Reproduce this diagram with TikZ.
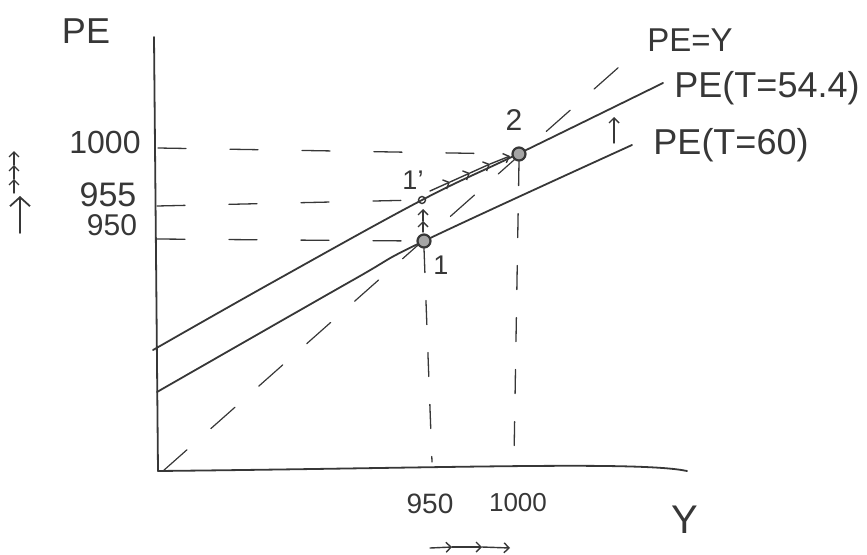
\documentclass[tikz,border=0pt]{standalone}
\usepackage{fontspec}
\setmainfont{Liberation Sans}
\usetikzlibrary{arrows.meta}
\definecolor{pencil}{RGB}{55,55,55}
\begin{document}
\begin{tikzpicture}[x=1pt,y=-1pt,
  pen/.style={draw=pencil,line width=1.8pt,line cap=round,line join=round},
  thin pen/.style={draw=pencil,line width=1.4pt,line cap=round,line join=round},
  guide/.style={draw=pencil,line width=1.3pt,line cap=round,dash pattern=on 28pt off 44pt},
  vguide/.style={draw=pencil,line width=1.3pt,line cap=round,dash pattern=on 24pt off 28pt},
  diag/.style={draw=pencil,line width=1.2pt,line cap=round,dash pattern=on 32pt off 32pt},
  tip/.style={thin pen,-{Straight Barb[length=5pt,width=10pt]}},
  bigtip/.style={pen,-{Straight Barb[length=9pt,width=20pt]}},
  dot/.style={circle,draw=pencil,fill=pencil!45,line width=2.2pt,inner sep=0pt,minimum size=13pt},
  smalldot/.style={circle,draw=pencil,line width=1.4pt,inner sep=0pt,minimum size=7pt},
  lbl/.style={text=pencil,inner sep=0pt,font=\fontsize{36}{40}\selectfont},
  num/.style={text=pencil,inner sep=0pt,font=\fontsize{32}{36}\selectfont},
  small/.style={text=pencil,inner sep=0pt,font=\fontsize{27}{30}\selectfont}]
\useasboundingbox (0,0) rectangle (867,554);

% axes
\coordinate (Ytop) at (154,37);
\coordinate (O) at (158,471);
\coordinate (Xend) at (687,471);
\draw[pen] (Ytop) -- (O);
\draw[pen] (O) .. controls (450,468) and (640,461) .. (Xend);

% axis labels
\node[lbl] (lPE) at (86,31) {PE};
\node[lbl,font=\fontsize{40}{44}\selectfont] (lY) at (685,520) {Y};

% tick labels
\node[num] (v1000) at (105,142) {1000};
\node[num,font=\fontsize{34}{36}\selectfont] (v955) at (108,195) {955};
\node[num,font=\fontsize{30}{34}\selectfont] (v950) at (112,225) {950};
\node[num,font=\fontsize{28}{32}\selectfont] (h950) at (430,504) {950};
\node[num,font=\fontsize{26}{30}\selectfont] (h1000) at (518,503) {1000};

% PE curves
\draw[pen] plot[smooth,tension=0.6] coordinates {(153,350) (273,282) (422,200) (520,153) (663,83)};
\draw[pen] plot[smooth,tension=0.6] coordinates {(157,392) (353,280) (424,241) (632,145)};

% PE = Y line
\coordinate (d0) at (163,471);
\coordinate (d1) at (628,59);
\draw[diag] (d0) -- (d1);

% equilibrium points
\node[dot] (p1) at (424,241) {};
\node[dot] (p2) at (519,154) {};
\node[smalldot] (p1p) at (422,200) {};
\node[small] (l1) at (441,265) {1};
\node[small] (l1p) at (413,180) {1'};
\node[small,font=\fontsize{30}{34}\selectfont] (l2) at (514,120) {2};

% curve labels
\node[lbl,font=\fontsize{33}{36}\selectfont] (lPEY) at (690,40) {PE=Y};
\node[lbl] (lT54) at (767,88) {PE(T=54.4)};
\node[lbl] (lT60) at (731,145) {PE(T=60)};

% horizontal guides
\coordinate (t1000) at (158,148);
\coordinate (t955) at (157,206);
\coordinate (t950) at (157,239);
\draw[guide] (t1000) -- (p2.west);
\draw[guide] (t955) -- (p1p.west);
\draw[guide] (t950) -- (p1.west);

% vertical guides
\coordinate (f950) at (432,462);
\coordinate (f1000) at (514,458);
\draw[vguide] (p1.south) -- (f950);
\draw[vguide] (p2.south) -- (f1000);

% shift arrow near PE(T=60)
\coordinate (s0) at (614,143);
\coordinate (s1) at (614,117);
\draw[tip] (s0) -- (s1);

% arrows from 1 to 1'
\coordinate (a0) at (423,232);
\coordinate (a1) at (423,221);
\coordinate (a2) at (423,209);
\draw[tip] (a0) -- (a1);
\draw[tip] (a1) -- (a2);

% arrows from 1' to 2 along upper curve
\coordinate (b0) at (430,191);
\coordinate (b1) at (450,182);
\coordinate (b2) at (470,173);
\coordinate (b3) at (490,164);
\coordinate (b4) at (510,156);
\draw[tip] (b0) -- (b1);
\draw[tip] (b1) -- (b2);
\draw[tip] (b2) -- (b3);
\draw[tip] (b3) -- (b4);

% arrows under Y values
\coordinate (c0) at (430,548);
\coordinate (c1) at (452,547);
\coordinate (c2) at (482,547);
\coordinate (c3) at (510,548);
\draw[tip] (c0) -- (c1);
\draw[tip] (c1) -- (c2);
\draw[tip] (c2) -- (c3);

% arrows at the left (PE rises)
\coordinate (e0) at (20,233);
\coordinate (e1) at (20,196);
\draw[bigtip] (e0) -- (e1);
\coordinate (g0) at (14,193);
\coordinate (g1) at (14,179);
\coordinate (g2) at (14,165);
\coordinate (g3) at (14,151);
\draw[tip] (g0) -- (g1);
\draw[tip] (g1) -- (g2);
\draw[tip] (g2) -- (g3);
\end{tikzpicture}
\end{document}
